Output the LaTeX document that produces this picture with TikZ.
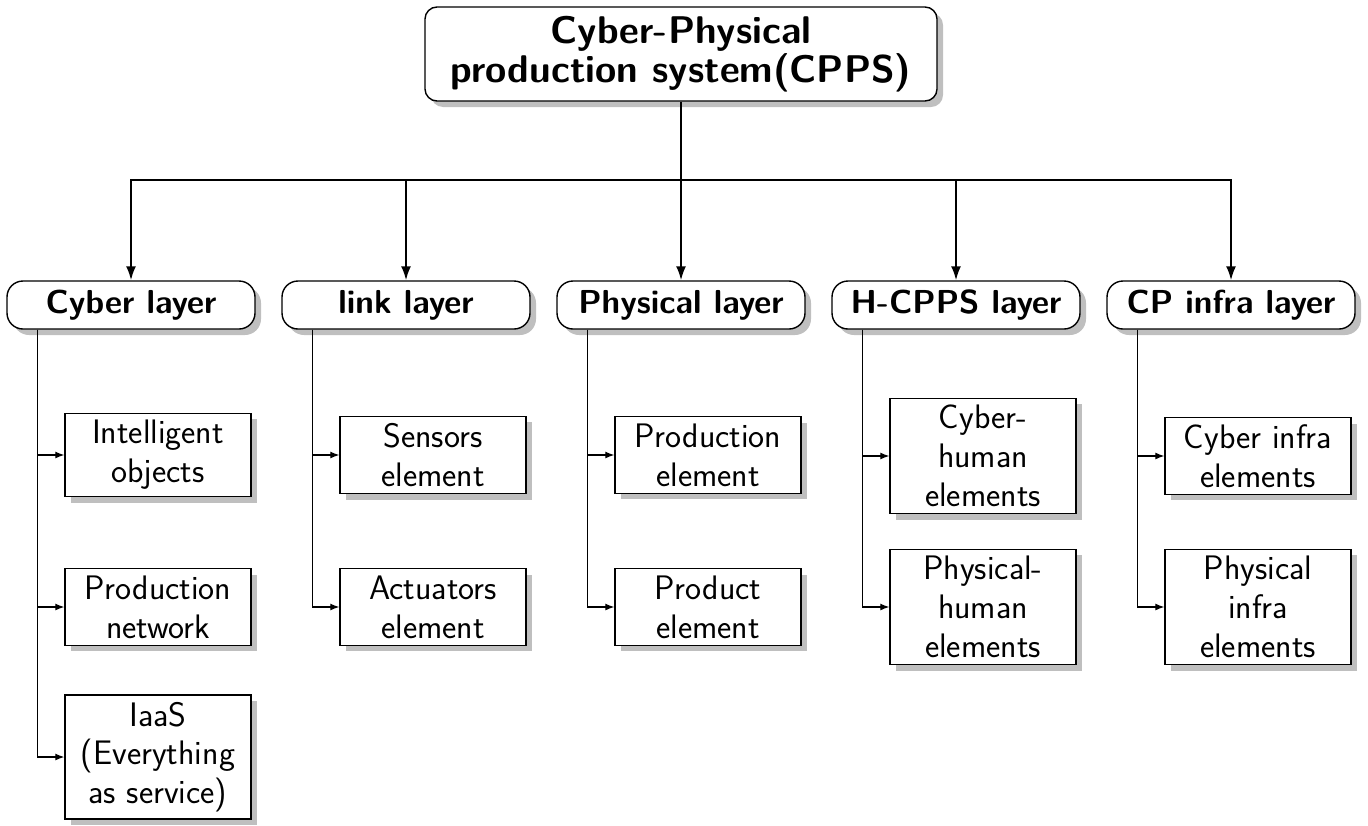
\documentclass[tikz,border=0pt]{standalone}
\usepackage{amsmath,amssymb}
\usepackage{xcolor}
\usepackage{tikz}
\usetikzlibrary{positioning, arrows.meta, shadows}

\begin{document}
\begin{tikzpicture}[
  x=0.5pt, y=-0.5pt,
  shade/.style={drop shadow={shadow xshift=3pt, shadow yshift=-3pt}},
  rootbox/.style={draw, line width=0.7pt, fill=white, rounded corners=6pt,
                  shade, minimum width=256pt, minimum height=47pt,
                  align=center, inner sep=2pt,
                  font=\sffamily\bfseries\fontsize{19.3}{19.5}\selectfont},
  layerbox/.style={draw, line width=0.7pt, fill=white, rounded corners=8pt,
                   shade, minimum width=124pt, minimum height=24pt,
                   inner sep=2pt,
                   font=\sffamily\bfseries\fontsize{16.6}{19}\selectfont},
  itembox/.style={draw, line width=0.7pt, fill=white, shade,
                  minimum width=93pt, inner sep=3.5pt, align=center,
                  font=\sffamily\fontsize{17}{19.4}\selectfont},
  bus/.style={line width=1pt, -{Latex[length=7pt, width=5pt]}},
  branch/.style={line width=0.6pt, -{Latex[length=4.5pt, width=3.5pt]}},
]
  \useasboundingbox (0,0) rectangle (1368,825);

  % Root system
  \node[rootbox] (cpps) at (681, 54)
    {Cyber-Physical\\production system(CPPS)};

  % Layers
  \node[layerbox] (cyber) at (131, 305)  {Cyber layer};
  \node[layerbox] (link)  at (406, 305)  {link layer};
  \node[layerbox] (phys)  at (681, 305)  {Physical layer};
  \node[layerbox] (hcpps) at (956, 305)  {H-CPPS layer};
  \node[layerbox] (infra) at (1231, 305) {CP infra layer};

  % Bus from root to layers
  \coordinate (hub) at (681, 180);
  \draw[line width=1pt] (cpps.south) -- (hub);
  \foreach \lay in {cyber, link, phys, hcpps, infra} {
    \draw[bus] (hub) -| (\lay.north);
  }

  % Cyber layer elements
  \node[itembox] (cy1) at (158, 455) {Intelligent\\objects};
  \node[itembox] (cy2) at (158, 607) {Production\\network};
  \node[itembox] (cy3) at (158, 757) {IaaS\\(Everything\\as service)};

  % Link layer elements
  \node[itembox] (li1) at (433, 455) {Sensors\\element};
  \node[itembox] (li2) at (433, 607) {Actuators\\element};

  % Physical layer elements
  \node[itembox] (ph1) at (708, 455) {Production\\element};
  \node[itembox] (ph2) at (708, 607) {Product\\element};

  % H-CPPS layer elements
  \node[itembox] (hc1) at (983, 456) {Cyber-\\human\\elements};
  \node[itembox] (hc2) at (983, 607) {Physical-\\human\\elements};

  % CP infra layer elements
  \node[itembox] (in1) at (1258, 456) {Cyber infra\\elements};
  \node[itembox] (in2) at (1258, 607) {Physical\\infra\\elements};

  % Branches
  \foreach \lay/\kid in {cyber/cy1, cyber/cy2, cyber/cy3,
                         link/li1, link/li2, phys/ph1, phys/ph2,
                         hcpps/hc1, hcpps/hc2, infra/in1, infra/in2} {
    \draw[branch] ([xshift=15.5pt]\lay.south west) |- (\kid.west);
  }

\end{tikzpicture}
\end{document}
